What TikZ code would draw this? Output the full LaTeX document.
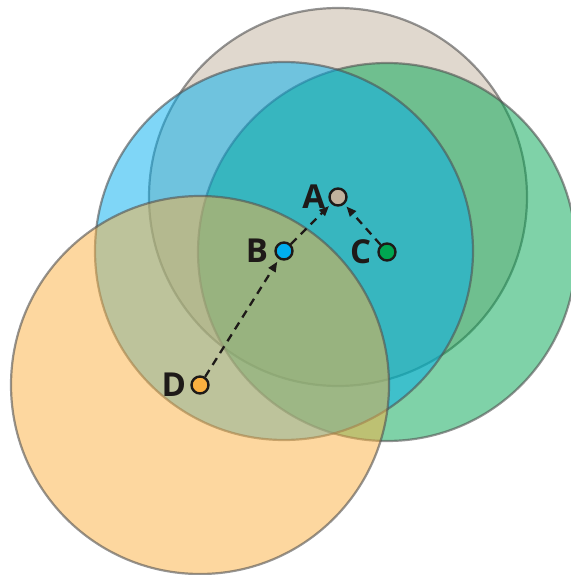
\documentclass[tikz,border=0pt]{standalone}
\usepackage{fontspec}
\setsansfont{Open Sans}
\usetikzlibrary{arrows.meta,positioning}
\definecolor{Tan}{HTML}{C2B29D}
\definecolor{Sky}{HTML}{00AEEF}
\definecolor{Leaf}{HTML}{00A651}
\definecolor{Amber}{HTML}{FBB040}
\definecolor{Rim}{HTML}{505050}
\definecolor{Ink}{HTML}{1E1A18}
\tikzset{
  zone/.style={fill=#1,fill opacity=0.5,draw=Rim,draw opacity=0.6,line width=2.2pt},
  dotnode/.style={circle,draw=Ink,line width=2.4pt,fill=#1,minimum size=17pt,inner sep=0pt},
  tag/.style={font=\sffamily\bfseries\fontsize{33}{33}\selectfont,text=Ink,inner sep=1pt},
  link/.style={-{Triangle[length=10pt,width=8pt]},draw=Ink,line width=2.3pt,dash pattern=on 8pt off 6pt,shorten >=3pt}
}
\begin{document}
\begin{tikzpicture}[x=1pt,y=-1pt]
  \useasboundingbox (0,0) rectangle (570,575);
  % centres
  \coordinate (pA) at (338,197);
  \coordinate (pB) at (284,251);
  \coordinate (pC) at (387,252);
  \coordinate (pD) at (200,385);
  % coverage circles
  \draw[zone=Tan] (pA) circle[radius=189];
  \draw[zone=Leaf] (pC) circle[radius=189];
  \draw[zone=Sky] (pB) circle[radius=189];
  \draw[zone=Amber] (pD) circle[radius=189];
  % points
  \node[dotnode=Tan] (A) at (pA) {};
  \node[dotnode=Sky] (B) at (pB) {};
  \node[dotnode=Leaf] (C) at (pC) {};
  \node[dotnode=Amber] (D) at (pD) {};
  \node[tag,left=2pt of A] (labA) {A};
  \node[tag,left=5pt of B] (labB) {B};
  \node[tag,left=5pt of C] (labC) {C};
  \node[tag,left=3pt of D] (labD) {D};
  % moves
  \draw[link] (D) -- (B);
  \draw[link] (B) -- (A);
  \draw[link] (C) -- (A);
\end{tikzpicture}
\end{document}
